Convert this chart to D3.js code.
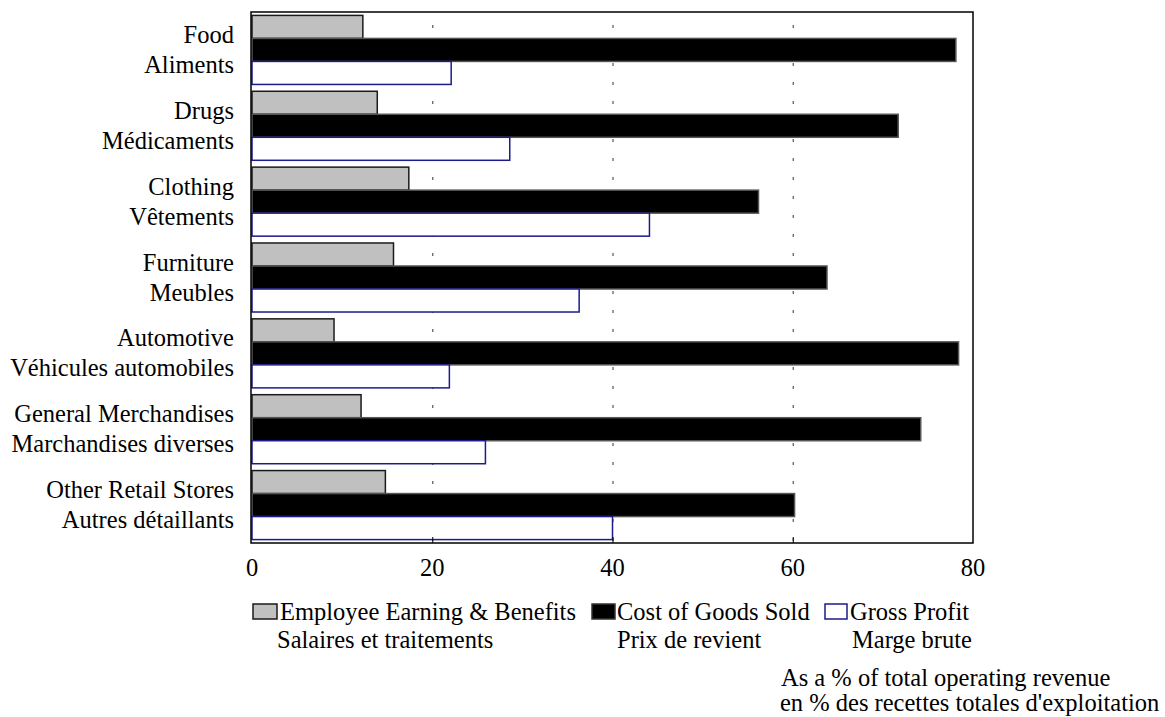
<!DOCTYPE html>
<html><head><meta charset="utf-8">
<script src="https://cdn.jsdelivr.net/npm/d3@7"></script>
<style>
html,body{margin:0;padding:0;background:#fff;}
svg{display:block;}
</style></head>
<body>
<svg id="chart" width="1165" height="717"></svg>
<script>
const categoriesEn = ["Food","Drugs","Clothing","Furniture","Automotive","General Merchandises","Other Retail Stores"];
const categoriesFr = ["Aliments","Médicaments","Vêtements","Meubles","Véhicules automobiles","Marchandises diverses","Autres détaillants"];
const employeeEarnings = [12.3, 13.9, 17.4, 15.7, 9.1, 12.1, 14.8];
const costOfGoods = [78.1, 71.7, 56.2, 63.8, 78.4, 74.2, 60.2];
const grossProfit = [22.1, 28.6, 44.1, 36.3, 21.9, 25.9, 40.0];
const xTicks = [0, 20, 40, 60, 80];
const seriesNamesEn = ["Employee Earning & Benefits","Cost of Goods Sold","Gross Profit"];
const seriesNamesFr = ["Salaires et traitements","Prix de revient","Marge brute"];
const noteLines = ["As a % of total operating revenue","en % des recettes totales d'exploitation"];

const FONT = '"Liberation Serif"';
const FS = 24.5;
const svg = d3.select("#chart");
function txt(sel){ return sel.append("text").style("font-family", FONT).style("font-size", FS + "px").attr("fill", "#000"); }

const L = 252, R = 973, T = 12, B = 543;
const x = d3.scaleLinear().domain([0, 80]).range([L, R]);
const y = d3.scaleBand().domain(categoriesEn).range([T, B]).paddingInner(0.09).paddingOuter(0.045);
const keys = ["emp","cogs","gp"];
const sub = d3.scaleBand().domain(keys).range([0, y.bandwidth()]).padding(0);

const styles = {
  emp: {fill:"#c0c0c0", stroke:"#1a1a1a", sw:1.5},
  cogs: {fill:"#000000", stroke:"#555555", sw:1.5},
  gp: {fill:"#ffffff", stroke:"#1c1c8a", sw:1.5}
};

const rows = categoriesEn.map((c,i)=>({cat:c, fr:categoriesFr[i], emp:employeeEarnings[i], cogs:costOfGoods[i], gp:grossProfit[i]}));

// gridlines (dotted)
svg.append("g").selectAll("line").data(xTicks.filter(t=>t>0 && t<80)).join("line")
  .attr("x1", d=>x(d)+0.5).attr("x2", d=>x(d)+0.5)
  .attr("y1", T+13).attr("y2", B)
  .attr("stroke", "#555").attr("stroke-width", 1.2)
  .attr("stroke-dasharray", "3,16");

// bars
const g = svg.append("g");
rows.forEach(r=>{
  keys.forEach(k=>{
    const st = styles[k];
    g.append("rect")
      .attr("x", x(0))
      .attr("y", y(r.cat) + sub(k))
      .attr("width", x(r[k]) - x(0))
      .attr("height", sub.bandwidth())
      .attr("fill", st.fill)
      .attr("stroke", st.stroke)
      .attr("stroke-width", st.sw);
  });
});

// bottom inner ticks
svg.append("g").selectAll("line").data(xTicks.filter(t=>t>0 && t<80)).join("line")
  .attr("x1", d=>x(d)+0.5).attr("x2", d=>x(d)+0.5)
  .attr("y1", B).attr("y2", B-6)
  .attr("stroke", "#000").attr("stroke-width", 1);

// frame
svg.append("rect").attr("x", L-1).attr("y", T).attr("width", R-L+1).attr("height", B-T)
  .attr("fill","none").attr("stroke","#000").attr("stroke-width",1.5);

// x tick labels
const tg = svg.append("g");
xTicks.forEach(t=>{
  txt(tg).attr("x", x(t)).attr("y", 576).attr("text-anchor","middle").text(t);
});

// category labels
const lab = svg.append("g");
rows.forEach(r=>{
  const cy = y(r.cat) + y.bandwidth()/2;
  txt(lab).attr("x", 234).attr("y", cy-7).attr("text-anchor","end").text(r.cat);
  txt(lab).attr("x", 234).attr("y", cy+23).attr("text-anchor","end").text(r.fr);
});

// legend
const legendPos = [
  {box:253, w:24, text:280, text2:277},
  {box:592, w:23, text:617, text2:617},
  {box:825, w:22, text:850, text2:852}
];
const lg = svg.append("g");
keys.forEach((k,i)=>{
  const st = styles[k];
  const p = legendPos[i];
  lg.append("rect").attr("x", p.box).attr("y", 604).attr("width", p.w).attr("height", 15)
    .attr("fill", st.fill).attr("stroke", k==="cogs" ? "#333" : st.stroke).attr("stroke-width", 1.5);
  txt(lg).attr("x", p.text).attr("y", 620).text(seriesNamesEn[i]);
  txt(lg).attr("x", p.text2).attr("y", 648).text(seriesNamesFr[i]);
});

// note
txt(svg).attr("x", 781).attr("y", 686).text(noteLines[0]);
txt(svg).attr("x", 780).attr("y", 711).text(noteLines[1]);
</script>
</body></html>
